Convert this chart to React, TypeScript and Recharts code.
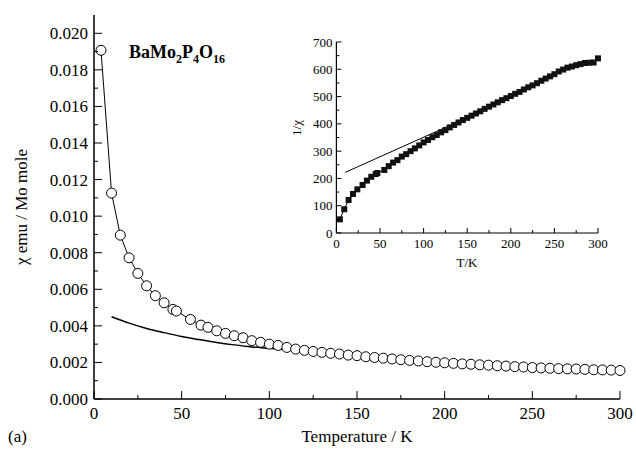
import { ComposedChart, Line, XAxis, YAxis } from 'recharts';

// main panel: chi vs T (open circles)
const chiTemps = [
  4, 10, 15, 20, 25, 30, 35, 40, 45, 47, 55, 61, 65, 70, 75, 80, 85, 90, 95, 100,
  105, 110, 115, 120, 125, 130, 135, 140, 145, 150, 155, 160, 165, 170, 175, 180,
  185, 190, 195, 200, 205, 210, 215, 220, 225, 230, 235, 240, 245, 250, 255, 260,
  265, 270, 275, 280, 285, 290, 295, 300,
];
const chiValues = [
  0.01907, 0.01126, 0.00896, 0.00772, 0.00687, 0.00619, 0.00565, 0.00526, 0.0049,
  0.00481, 0.00435, 0.00404, 0.00392, 0.00373, 0.00359, 0.00346, 0.00335, 0.00319,
  0.0031, 0.003, 0.00293, 0.00282, 0.00273, 0.00266, 0.0026, 0.00255, 0.0025,
  0.00246, 0.0024, 0.00237, 0.00231, 0.00227, 0.00223, 0.00219, 0.00215, 0.00211,
  0.00208, 0.00204, 0.00201, 0.00198, 0.00195, 0.00192, 0.0019, 0.00187, 0.00185,
  0.00182, 0.0018, 0.00177, 0.00175, 0.00172, 0.0017, 0.00168, 0.00166, 0.00165,
  0.00164, 0.00162, 0.0016, 0.00159, 0.00158, 0.00156,
];

// Curie-Weiss fit drawn in the main panel
const fitTemps = [10, 20, 30, 40, 50, 60, 70, 80, 90, 100, 110, 120, 130, 140, 150, 160, 180, 200, 220, 240, 260, 280, 300];
const fitChi = [
  0.0045, 0.00415, 0.00386, 0.00363, 0.00342, 0.00325, 0.00309, 0.00296, 0.00285,
  0.00277, 0.00269, 0.00262, 0.00254, 0.00246, 0.00237, 0.00228, 0.00212, 0.00198,
  0.00187, 0.00177, 0.00168, 0.00161, 0.00155,
];

// inset: 1/chi vs T (filled squares)
const invTemps = [
  4, 9, 14, 19, 24, 30, 35, 40, 45, 47, 55, 60, 65, 70, 75, 80, 85, 90, 95, 100,
  105, 110, 115, 120, 125, 130, 135, 140, 145, 150, 155, 160, 165, 170, 175, 180,
  185, 190, 195, 200, 205, 210, 215, 220, 225, 230, 235, 240, 245, 250, 255, 260,
  265, 270, 275, 280, 285, 290, 295, 300,
];
const invValues = [
  50, 87, 121, 143, 160, 176, 192, 206, 216, 220, 231, 245, 258, 267, 280, 289, 300,
  310, 321, 332, 341, 351, 359, 369, 377, 387, 396, 405, 414, 422, 430, 438, 446,
  455, 463, 471, 479, 487, 494, 502, 510, 517, 526, 534, 541, 549, 558, 566, 574,
  582, 592, 599, 606, 610, 615, 619, 623, 624, 625, 640,
];
// straight fit line in the inset, visible until it runs under the squares
const invFitTemps = [10, 160];
const invFitValues = [222, 437];

const mainXTicks = [0, 25, 50, 75, 100, 125, 150, 175, 200, 225, 250, 275, 300];
const mainYTicks = [
  0, 0.001, 0.002, 0.003, 0.004, 0.005, 0.006, 0.007, 0.008, 0.009, 0.01, 0.011,
  0.012, 0.013, 0.014, 0.015, 0.016, 0.017, 0.018, 0.019, 0.02,
];
const insetXTicks = [0, 25, 50, 75, 100, 125, 150, 175, 200, 225, 250, 275, 300];
const insetYTicks = [0, 50, 100, 150, 200, 250, 300, 350, 400, 450, 500, 550, 600, 650, 700];

const chiData = chiTemps.map((t, i) => ({ t, v: chiValues[i] }));
const fitData = fitTemps.map((t, i) => ({ t, v: fitChi[i] }));
const invData = invTemps.map((t, i) => ({ t, v: invValues[i] }));
const invFitData = invFitTemps.map((t, i) => ({ t, v: invFitValues[i] }));

const FONT = '"Liberation Serif", "Times New Roman", "DejaVu Serif", serif';

type Side = 'bottom' | 'top' | 'left' | 'right';

// draws inward tick marks (long on majors) plus the label on labelled sides
function makeTick(
  side: Side,
  majorLen: number,
  minorLen: number,
  isMajor: (v: number) => boolean,
  fmt: ((v: number) => string) | null,
  fontSize: number,
  gap: number
) {
  return (props: any) => {
    const { x, y, payload } = props;
    const v = payload.value;
    const major = isMajor(v);
    const len = major ? majorLen : minorLen;
    let x2 = x;
    let y2 = y;
    if (side === 'bottom') y2 = y - len;
    if (side === 'top') y2 = y + len;
    if (side === 'left') x2 = x + len;
    if (side === 'right') x2 = x - len;
    let label = null;
    if (major && fmt) {
      if (side === 'bottom') {
        label = (
          <text x={x} y={y + gap} textAnchor="middle" fontSize={fontSize} style={{ fontFamily: FONT }} fill="#000">
            {fmt(v)}
          </text>
        );
      } else if (side === 'left') {
        label = (
          <text x={x - gap} y={y} dy="0.35em" textAnchor="end" fontSize={fontSize} style={{ fontFamily: FONT }} fill="#000">
            {fmt(v)}
          </text>
        );
      }
    }
    return (
      <g>
        <line x1={x} y1={y} x2={x2} y2={y2} stroke="#000" strokeWidth={1} />
        {label}
      </g>
    );
  };
}

const majorT = (v: number) => v % 50 === 0;
const majorChi = (v: number) => Math.round(v * 1000) % 2 === 0;
const majorInv = (v: number) => v % 100 === 0;

const square = (p: any) => (
  <rect key={p.index} x={p.cx - 3} y={p.cy - 3} width={6} height={6} fill="#111" />
);

const axisStroke = { stroke: '#000', strokeWidth: 1.5 };
const insetStroke = { stroke: '#000', strokeWidth: 1.2 };

export default function App() {
  return (
    <div style={{ position: 'absolute', left: 0, top: 0, width: 636, height: 452, background: '#fff', fontFamily: FONT }}>
      <ComposedChart width={636} height={452} margin={{ top: 15, right: 16, bottom: 0, left: 0 }}>
        <XAxis
          xAxisId="b"
          dataKey="t"
          type="number"
          domain={[0, 300]}
          ticks={mainXTicks}
          interval={0}
          height={53}
          tickSize={0}
          tickMargin={0}
          tickLine={false}
          axisLine={axisStroke}
          tick={makeTick('bottom', 8, 4, majorT, v => String(v), 17, 20)}
        />
        <XAxis
          xAxisId="t"
          dataKey="t"
          type="number"
          orientation="top"
          domain={[0, 300]}
          ticks={mainXTicks}
          interval={0}
          height={0}
          tickSize={0}
          tickMargin={0}
          tickLine={false}
          axisLine={axisStroke}
          tick={makeTick('top', 8, 4, majorT, null, 17, 0)}
        />
        <YAxis
          yAxisId="l"
          type="number"
          domain={[0, 0.021]}
          ticks={mainYTicks}
          interval={0}
          width={94}
          tickSize={0}
          tickMargin={0}
          tickLine={false}
          axisLine={axisStroke}
          tick={makeTick('left', 8, 4, majorChi, v => v.toFixed(3), 17, 6)}
        />
        <YAxis
          yAxisId="r"
          type="number"
          orientation="right"
          domain={[0, 0.021]}
          ticks={mainYTicks}
          interval={0}
          width={0}
          tickSize={0}
          tickMargin={0}
          tickLine={false}
          axisLine={axisStroke}
          tick={makeTick('right', 8, 4, majorChi, null, 17, 0)}
        />
        <Line
          xAxisId="b"
          yAxisId="l"
          data={fitData}
          dataKey="v"
          type="monotone"
          stroke="#000"
          strokeWidth={1.5}
          dot={false}
          isAnimationActive={false}
        />
        <Line
          xAxisId="b"
          yAxisId="l"
          data={chiData}
          dataKey="v"
          type="linear"
          stroke="#000"
          strokeWidth={1}
          dot={{ r: 5, fill: '#fff', stroke: '#000', strokeWidth: 1 }}
          isAnimationActive={false}
        />
      </ComposedChart>

      <div style={{ position: 'absolute', left: 290, top: 30 }}>
        <ComposedChart width={320} height={240} margin={{ top: 12, right: 12, bottom: 0, left: 0 }}>
          <XAxis
            xAxisId="b"
            dataKey="t"
            type="number"
            domain={[0, 300]}
            ticks={insetXTicks}
            interval={0}
            height={37}
            tickSize={0}
            tickMargin={0}
            tickLine={false}
            axisLine={insetStroke}
            tick={makeTick('bottom', 5, 3, majorT, v => String(v), 13, 15)}
          />
          <XAxis
            xAxisId="t"
            dataKey="t"
            type="number"
            orientation="top"
            domain={[0, 300]}
            ticks={insetXTicks}
            interval={0}
            height={0}
            tickSize={0}
            tickMargin={0}
            tickLine={false}
            axisLine={insetStroke}
            tick={makeTick('top', 5, 3, majorT, null, 13, 0)}
          />
          <YAxis
            yAxisId="l"
            type="number"
            domain={[0, 700]}
            ticks={insetYTicks}
            interval={0}
            width={46.4}
            tickSize={0}
            tickMargin={0}
            tickLine={false}
            axisLine={insetStroke}
            tick={makeTick('left', 5, 3, majorInv, v => String(v), 13, 4)}
          />
          <YAxis
            yAxisId="r"
            type="number"
            orientation="right"
            domain={[0, 700]}
            ticks={insetYTicks}
            interval={0}
            width={0}
            tickSize={0}
            tickMargin={0}
            tickLine={false}
            axisLine={insetStroke}
            tick={makeTick('right', 5, 3, majorInv, null, 13, 0)}
          />
          <Line
            xAxisId="b"
            yAxisId="l"
            data={invFitData}
            dataKey="v"
            type="linear"
            stroke="#000"
            strokeWidth={1}
            dot={false}
            isAnimationActive={false}
          />
          <Line
            xAxisId="b"
            yAxisId="l"
            data={invData}
            dataKey="v"
            type="linear"
            stroke="#000"
            strokeWidth={1}
            dot={square}
            isAnimationActive={false}
          />
        </ComposedChart>
      </div>

      <div style={{ position: 'absolute', left: 129, top: 43, fontSize: 18, fontWeight: 'bold', whiteSpace: 'nowrap', lineHeight: 1 }}>
        BaMo<sub style={{ fontSize: 12 }}>2</sub>P<sub style={{ fontSize: 12 }}>4</sub>O<sub style={{ fontSize: 12 }}>16</sub>
      </div>
      <div style={{ position: 'absolute', left: 22, top: 207, fontSize: 17, whiteSpace: 'nowrap', transform: 'translate(-50%, -50%) rotate(-90deg)' }}>
        χ emu / Mo mole
      </div>
      <div style={{ position: 'absolute', left: 357, top: 437, fontSize: 17, whiteSpace: 'nowrap', transform: 'translate(-50%, -50%)' }}>
        Temperature / K
      </div>
      <div style={{ position: 'absolute', left: 8, top: 437, fontSize: 17, whiteSpace: 'nowrap', transform: 'translate(0, -50%)' }}>
        (a)
      </div>
      <div style={{ position: 'absolute', left: 297, top: 128, fontSize: 13, whiteSpace: 'nowrap', transform: 'translate(-50%, -50%) rotate(-90deg)' }}>
        1/χ
      </div>
      <div style={{ position: 'absolute', left: 467, top: 263, fontSize: 13, whiteSpace: 'nowrap', transform: 'translate(-50%, -50%)' }}>
        T/K
      </div>
    </div>
  );
}
